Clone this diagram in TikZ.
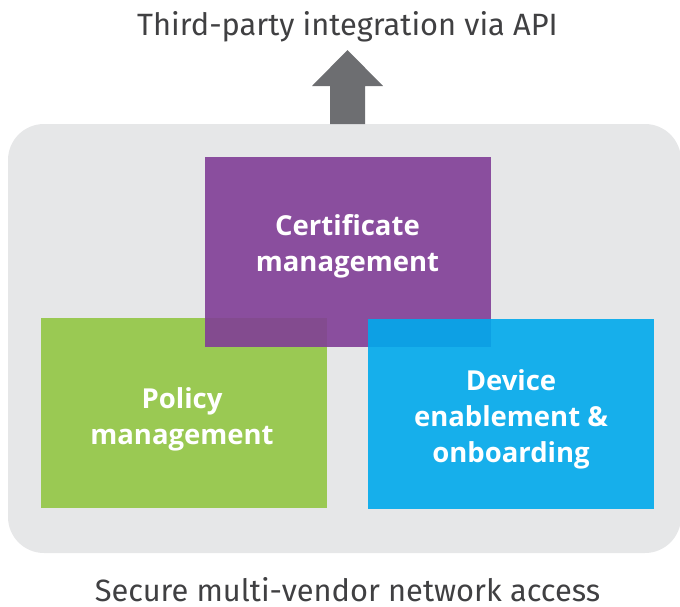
\documentclass[tikz,border=0pt]{standalone}
\usepackage{fontspec}
\setmainfont{Fira Sans}
\newfontfamily\boxfont{Open Sans}
\usetikzlibrary{positioning}
\definecolor{panelgray}{RGB}{230,231,232}
\definecolor{arrowgray}{RGB}{109,110,113}
\definecolor{certpurple}{RGB}{129,62,150}
\definecolor{policygreen}{RGB}{154,201,83}
\definecolor{deviceblue}{RGB}{0,170,236}
\definecolor{captiongray}{RGB}{64,64,66}

\begin{document}
\begin{tikzpicture}[x=1pt, y=-1pt,
    box/.style={minimum width=286pt, minimum height=190pt, inner sep=0pt},
    boxtext/.style={text=white, align=center, font=\boxfont\bfseries\fontsize{27.5}{36}\selectfont},
    caption/.style={text=captiongray, anchor=base, inner sep=0pt, text depth=0pt, font=\fontsize{30.8}{36}\selectfont}]
    \useasboundingbox (0,0) rectangle (680,606);
    \node[fill=panelgray, rounded corners=36pt, minimum width=673pt, minimum height=429pt] (panel) at (344.5,338.5) {};
    % arrow up to the API caption
    \coordinate (apibase) at (347.5,124);
    \coordinate (apitip) at (347.5,50);
    \fill[arrowgray] (apibase) ++(-17.5,0) -- ++(0,-38) -- ++(-18,0) -- (apitip) -- ++(35.5,36) -- ++(-18,0) -- ++(0,38) -- cycle;
    \node[caption] (api) at (347.5,35) {Third-party integration via API};
    \node[caption] (access) at (347.5,601) {Secure multi-vendor network access};
    % the three boxes
    \node[box, fill=policygreen] (policy) at (184,413) {};
    \node[box, fill=certpurple, fill opacity=0.9] (cert) at (347.5,252) {};
    \node[box, fill=deviceblue, fill opacity=0.9] (device) at (511,413.5) {};
    \node[boxtext] (certlabel) at (347.5,246) {Certificate\\management};
    \node[boxtext] (policylabel) at (182,419) {Policy\\management};
    \node[boxtext] (devicelabel) at (511,419) {Device\\enablement \&\\onboarding};
\end{tikzpicture}
\end{document}
